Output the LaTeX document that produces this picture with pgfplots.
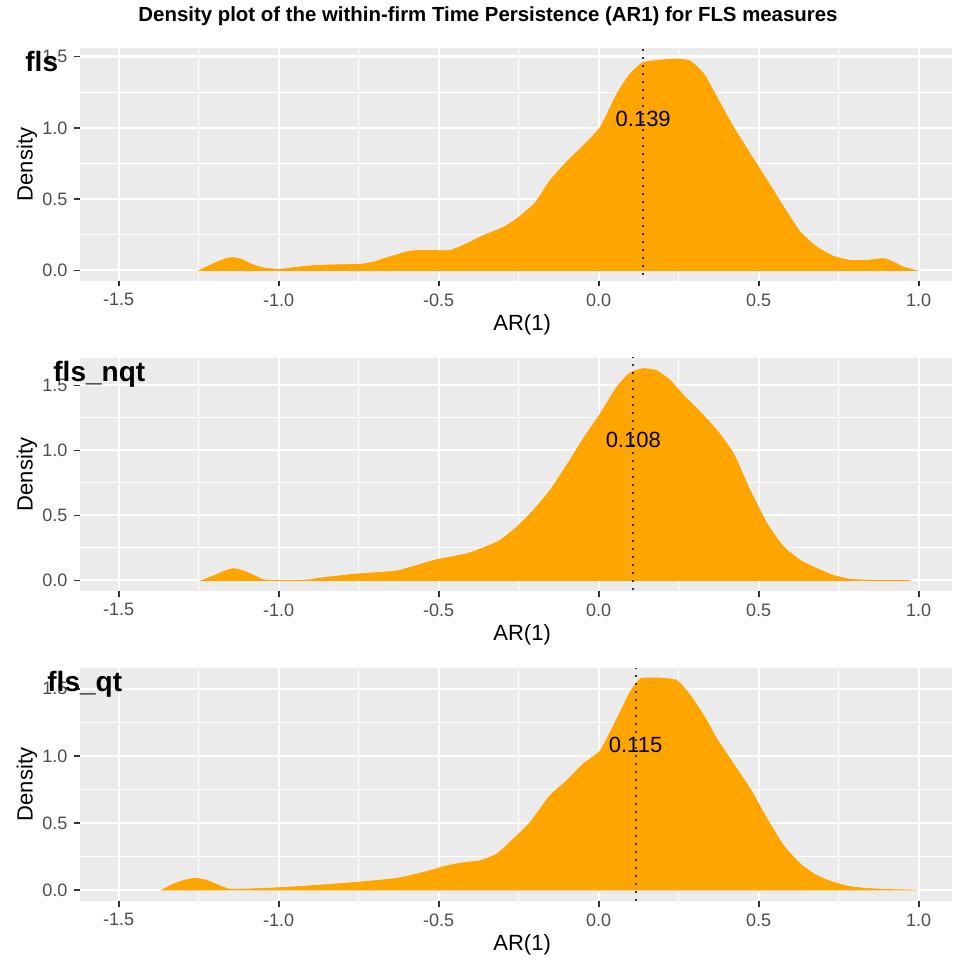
\documentclass[border=0pt]{standalone}
\usepackage{fontspec}
\setmainfont{Liberation Sans}
\usepackage{pgfplots}
\pgfplotsset{compat=1.18}
\definecolor{ggorange}{HTML}{FFA500}
\definecolor{grey92}{HTML}{EBEBEB}
\definecolor{grey20}{HTML}{333333}
\definecolor{grey30}{HTML}{4D4D4D}
\pgfplotsset{
 ggpanel/.style={
  scale only axis, width=436pt, height=116.5pt,
  anchor=north west,
  xmin=-1.621, xmax=1.104,
  axis background/.style={fill=grey92},
  axis line style={draw=none},
  tick align=outside,
  major tick length=2.75pt,
  minor tick length=0pt,
  tick style={grey20, line width=0.8pt},
  xtick={-1.5,-1,-0.5,0,0.5,1},
  xticklabels={-1.5,-1.0,-0.5,0.0,0.5,1.0},
  minor xtick={-1.25,-0.75,-0.25,0.25,0.75},
  ytick={0,0.5,1,1.5},
  yticklabels={0.0,0.5,1.0,1.5},
  minor ytick={0.25,0.75,1.25},
  tick pos=left,
  grid=both,
  major grid style={white, line width=1.07pt},
  minor grid style={white, line width=0.53pt},
  tick label style={font=\fontsize{9}{10}\selectfont, text=grey30},
  label style={font=\fontsize{11}{13}\selectfont},
  xlabel={AR(1)}, ylabel={Density},
  xlabel style={at={(axis description cs:0.507,0)}, anchor=center, yshift=-22pt},
  ylabel style={at={(axis description cs:-0.0608,0.5)}, anchor=center},
 },
 dens/.style={fill=ggorange, draw=ggorange, line width=0.4pt, smooth, tension=0.35},
 vl/.style={black!80, line width=1pt, dash pattern=on 1pt off 3pt},
}
\begin{document}
\begin{tikzpicture}
\useasboundingbox (0,0) rectangle (476pt,-480.5pt);
% Panel 1: fls
\begin{axis}[ggpanel, at={(40pt,-24pt)}, ymin=-0.0743, ymax=1.56]
\addplot[dens] coordinates {
(-1.248,0) (-1.22,0.03) (-1.19,0.06) (-1.16,0.085) (-1.141,0.089) (-1.12,0.08) (-1.089,0.047) (-1.065,0.028) (-1.047,0.016) (-1.0,0.007) (-0.954,0.019) (-0.91,0.03) (-0.88,0.035) (-0.80,0.040) (-0.745,0.042) (-0.70,0.06) (-0.672,0.082) (-0.63,0.11) (-0.589,0.135) (-0.53,0.14) (-0.464,0.14) (-0.41,0.19) (-0.36,0.245) (-0.30,0.30) (-0.256,0.362) (-0.20,0.47) (-0.152,0.63) (-0.10,0.76) (-0.048,0.876) (0.005,1.004) (0.057,1.238) (0.098,1.378) (0.135,1.453) (0.161,1.467) (0.20,1.476) (0.244,1.483) (0.286,1.467) (0.328,1.378) (0.369,1.215) (0.421,1.004) (0.473,0.818) (0.526,0.631) (0.578,0.444) (0.63,0.268) (0.682,0.163) (0.734,0.098) (0.786,0.07) (0.838,0.07) (0.89,0.082) (0.921,0.058) (0.952,0.023) (0.979,0.007) (0.99,0)
} \closedcycle;
\addplot[vl] coordinates {(0.139,-0.2) (0.139,1.8)};
\node[font=\fontsize{11}{13}\selectfont] at (axis cs:0.139,1.06) {0.139};
\end{axis}
% Panel 2: fls_nqt
\begin{axis}[ggpanel, at={(40pt,-179pt)}, ymin=-0.0815, ymax=1.71]
\addplot[dens] coordinates {
(-1.24,0) (-1.193,0.046) (-1.16,0.08) (-1.141,0.09) (-1.12,0.08) (-1.089,0.051) (-1.047,0.005) (-1.0,0.0) (-0.95,0.0) (-0.90,0.005) (-0.879,0.015) (-0.777,0.044) (-0.672,0.064) (-0.631,0.072) (-0.568,0.115) (-0.506,0.159) (-0.412,0.205) (-0.36,0.25) (-0.308,0.308) (-0.256,0.41) (-0.204,0.538) (-0.152,0.692) (-0.1,0.885) (-0.048,1.09) (0.005,1.282) (0.057,1.487) (0.098,1.595) (0.14,1.628) (0.182,1.61) (0.223,1.538) (0.265,1.423) (0.317,1.295) (0.369,1.154) (0.421,0.974) (0.473,0.692) (0.526,0.436) (0.578,0.256) (0.63,0.154) (0.682,0.09) (0.734,0.038) (0.786,0.008) (0.85,0.002) (0.973,0)
} \closedcycle;
\addplot[vl] coordinates {(0.108,-0.2) (0.108,1.9)};
\node[font=\fontsize{11}{13}\selectfont] at (axis cs:0.108,1.077) {0.108};
\end{axis}
% Panel 3: fls_qt
\begin{axis}[ggpanel, at={(40pt,-334pt)}, ymin=-0.0815, ymax=1.655]
\addplot[dens] coordinates {
(-1.365,0) (-1.329,0.045) (-1.29,0.075) (-1.261,0.087) (-1.23,0.075) (-1.204,0.052) (-1.152,0.007) (-1.047,0.012) (-0.943,0.025) (-0.839,0.042) (-0.735,0.062) (-0.631,0.087) (-0.547,0.132) (-0.474,0.181) (-0.42,0.205) (-0.37,0.219) (-0.318,0.269) (-0.266,0.381) (-0.214,0.505) (-0.152,0.704) (-0.1,0.815) (-0.048,0.94) (0.005,1.04) (0.057,1.276) (0.098,1.475) (0.13,1.575) (0.16,1.58) (0.192,1.58) (0.244,1.562) (0.286,1.45) (0.328,1.3) (0.369,1.127) (0.421,0.94) (0.473,0.754) (0.526,0.53) (0.578,0.33) (0.63,0.194) (0.682,0.107) (0.734,0.057) (0.786,0.025) (0.838,0.012) (0.9,0.004) (0.994,0)
} \closedcycle;
\addplot[vl] coordinates {(0.115,-0.2) (0.115,1.9)};
\node[font=\fontsize{11}{13}\selectfont] at (axis cs:0.115,1.082) {0.115};
\end{axis}
% titles and panel labels
\node[anchor=base, font=\bfseries\fontsize{10.2}{12}\selectfont, inner sep=0] at (244pt,-10.8pt) {Density plot of the within-firm Time Persistence (AR1) for FLS measures};
\node[anchor=base west, font=\bfseries\fontsize{14}{16}\selectfont, inner sep=0] at (12.5pt,-36pt) {fls};
\node[anchor=base west, font=\bfseries\fontsize{14}{16}\selectfont, inner sep=0] at (26.5pt,-190.8pt) {fls\_nqt};
\node[anchor=base west, font=\bfseries\fontsize{14}{16}\selectfont, inner sep=0] at (23.5pt,-345.8pt) {fls\_qt};
\end{tikzpicture}
\end{document}
